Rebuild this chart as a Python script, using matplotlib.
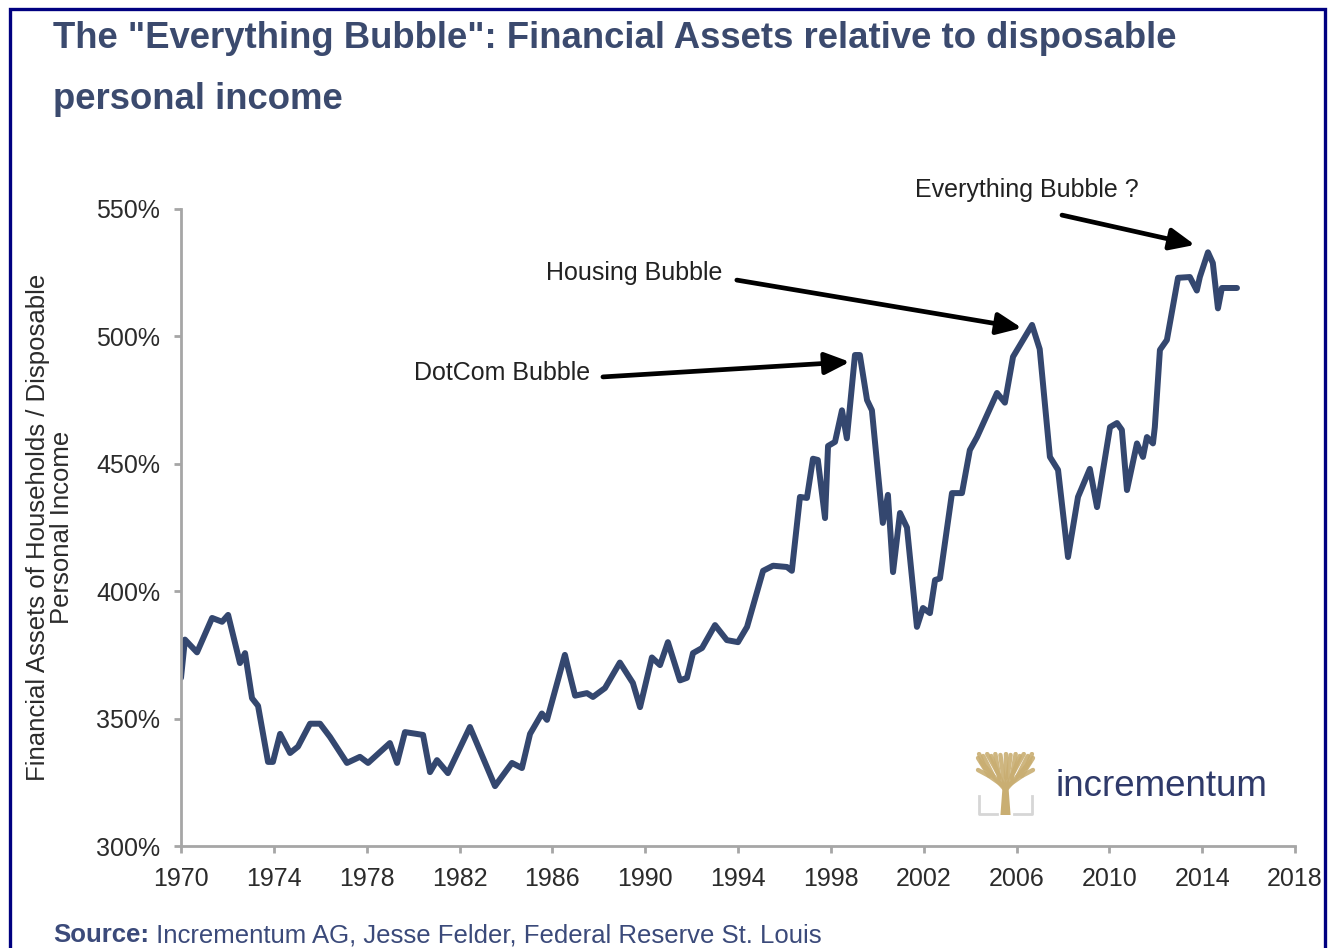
import matplotlib
matplotlib.use("Agg")
import matplotlib.pyplot as plt
from matplotlib.patches import Rectangle, Polygon
from matplotlib.text import Annotation

# ---------------- data ----------------
years = [1970.0, 1970.17, 1970.69, 1971.34, 1971.77, 1972.03, 1972.54, 1972.76, 1973.06, 1973.32,
         1973.75, 1973.96, 1974.27, 1974.70, 1975.04, 1975.56, 1975.99, 1976.42, 1977.15, 1977.71,
         1978.06, 1979.00, 1979.31, 1979.65, 1980.43, 1980.73, 1981.03, 1981.50, 1982.45, 1983.53,
         1984.26, 1984.69, 1985.04, 1985.55, 1985.77, 1986.54, 1986.98, 1987.49, 1987.75, 1988.27,
         1988.91, 1989.47, 1989.78, 1990.29, 1990.64, 1990.98, 1991.50, 1991.80, 1992.06, 1992.45,
         1993.01, 1993.52, 1994.00, 1994.39, 1995.08, 1995.51, 1996.11, 1996.32, 1996.67, 1996.97,
         1997.23, 1997.44, 1997.75, 1997.88, 1998.18, 1998.48, 1998.69, 1999.04, 1999.25, 1999.56,
         1999.77, 2000.24, 2000.46, 2000.68, 2000.98, 2001.28, 2001.71, 2001.97, 2002.27, 2002.49,
         2002.70, 2003.22, 2003.65, 2003.99, 2004.30, 2005.16, 2005.50, 2005.85, 2006.67, 2007.00,
         2007.44, 2007.79, 2008.22, 2008.65, 2009.16, 2009.47, 2010.03, 2010.33, 2010.54, 2010.76,
         2011.19, 2011.45, 2011.62, 2011.88, 2011.96, 2012.18, 2012.48, 2012.96, 2013.47, 2013.77,
         2013.90, 2014.25, 2014.46, 2014.68, 2014.85, 2015.07, 2015.50]
ratio = [366, 381, 376, 389.5, 388, 390.7, 371.8, 375.7, 358, 355,
         333, 333, 344, 336.5, 339, 348, 348, 342.8, 332.6, 335,
         332.6, 340.4, 332.6, 344.7, 343.6, 329, 333.7, 328.6, 346.7, 323.5,
         332.6, 330.6, 344, 352, 349.5, 375, 359, 360, 358.5, 362,
         372, 364, 354.5, 374, 371, 380, 365, 366, 375.7, 377.7,
         386.7, 380.8, 380, 386, 408, 410, 409.5, 408, 437, 436.6,
         452, 451.5, 428.7, 457, 458.6, 471, 460, 492.7, 492.7, 475,
         471, 426.8, 437.8, 407.5, 430.7, 425, 386, 393.4, 391.4, 404.4,
         405, 438.5, 438.5, 455.4, 460.5, 477.8, 474, 492, 504.5, 495,
         452.7, 447.6, 413.4, 437, 448, 433, 464.4, 466, 463.3, 439.7,
         458, 452.7, 460.5, 458, 464.4, 494.7, 498.6, 523, 523.3, 518,
         523.3, 533, 528.8, 511, 519, 519, 519]

x_ticks = [1970, 1974, 1978, 1982, 1986, 1990, 1994, 1998, 2002, 2006, 2010, 2014, 2018]
y_ticks = [300, 350, 400, 450, 500, 550]
y_tick_labels = ["300%", "350%", "400%", "450%", "500%", "550%"]

ann_labels = ["DotCom Bubble", "Housing Bubble", "Everything Bubble ?"]
ann_text_pos = [(1980.04, 485.6), (1985.73, 524.9), (2001.62, 557.5)]
ann_tail = [(1988.18, 484.1), (1993.95, 522.1), (2007.96, 547.6)]
ann_head = [(1998.82, 490.0), (2006.23, 503.3), (2013.69, 535.9)]

title = 'The "Everything Bubble": Financial Assets relative to disposable\npersonal income'
ylabel = "Financial Assets of Households / Disposable\nPersonal Income"

# ---------------- figure ----------------
plt.rcParams['font.family'] = ['Liberation Sans', 'DejaVu Sans']
W, H = 1330, 948
fig = plt.figure(figsize=(W / 100, H / 100), dpi=100)
fig.patch.set_facecolor('white')

def fx(px):
    return px / W

def fy(py):
    return 1 - py / H

ax = fig.add_axes([fx(181), fy(846), fx(1295) - fx(181), fy(209) - fy(846)])
line_col = '#34476f'
ax.plot(years, ratio, color=line_col, lw=4.3, solid_joinstyle='round', solid_capstyle='round')
ax.set_xlim(1970, 2018)
ax.set_ylim(300, 550)
ax.set_xticks(x_ticks)
ax.set_xticklabels([str(t) for t in x_ticks])
ax.set_yticks(y_ticks)
ax.set_yticklabels(y_tick_labels)
for s in ['top', 'right']:
    ax.spines[s].set_visible(False)
for s in ['left', 'bottom']:
    ax.spines[s].set_color('#a6a6a6')
    ax.spines[s].set_linewidth(2)
ax.tick_params(axis='both', colors='#a6a6a6', width=2, length=5, labelsize=18,
               labelcolor='#2b2b2b')
ax.tick_params(axis='y', pad=10)
ax.tick_params(axis='x', pad=10)
ax.set_ylabel(ylabel, fontsize=18.5, color='#2b2b2b', linespacing=1.0, labelpad=16)

for lab, tp, tl, hd in zip(ann_labels, ann_text_pos, ann_tail, ann_head):
    ax.text(tp[0], tp[1], lab, fontsize=18, color='#222222', ha='left', va='center', clip_on=False)
    ax.annotate('', xy=hd, xytext=tl,
                arrowprops=dict(arrowstyle='-|>,head_length=0.5,head_width=0.22', color='black',
                                lw=3.4, mutation_scale=30, shrinkA=0, shrinkB=0),
                annotation_clip=False)

# title
fig.text(fx(53), fy(21), title, fontsize=26.3, fontweight='bold', color='#3b4a6e',
         ha='left', va='top', linespacing=1.95)

# source
t1 = fig.text(fx(53), fy(947), 'Source:', fontsize=18.5, fontweight='bold', color='#3b4a7a',
              ha='left', va='bottom')
ann = Annotation(' Incrementum AG, Jesse Felder, Federal Reserve St. Louis', xy=(1, 0), xycoords=t1,
                 va='bottom', ha='left', fontsize=18.5, color='#3b4a7a')
fig.add_artist(ann)

# logo text
fig.text(fx(1056), fy(787), 'incrementum', fontsize=26.5, color='#2f3a6a', ha='left', va='center')

# logo tree icon
lax = fig.add_axes([fx(975), fy(818), fx(1036) - fx(975), fy(752) - fy(818)])
lax.set_xlim(0, 60)
lax.set_ylim(0, 66)
lax.axis('off')
gold = '#c9ae72'
lax.add_patch(Polygon([[25, 3], [35, 3], [33, 30], [27, 30]], closed=True, color=gold, lw=0))
branches = [
    [(30, 28), (18, 42), (6, 56)], [(30, 28), (22, 46), (16, 62)], [(30, 28), (27, 48), (25, 63)],
    [(30, 28), (33, 48), (35, 63)], [(30, 28), (38, 46), (44, 62)], [(30, 28), (42, 42), (54, 56)],
    [(28, 32), (14, 42), (3, 48)], [(32, 32), (46, 42), (57, 48)], [(18, 42), (8, 62)],
    [(42, 42), (52, 62)], [(22, 46), (12, 64)], [(38, 46), (48, 64)], [(24, 40), (20, 64)],
    [(36, 40), (40, 64)], [(14, 42), (3, 60)], [(46, 42), (57, 60)],
    [(10, 50), (4, 64)], [(50, 50), (56, 64)], [(30, 40), (30, 64)],
]
for br in branches:
    xs = [p[0] for p in br]
    ys = [p[1] for p in br]
    lax.plot(xs, ys, color=gold, lw=3.2, solid_capstyle='round', alpha=0.9)
gray = '#d6d6d6'
lax.plot([4, 4, 22], [22, 4, 4], color=gray, lw=2)
lax.plot([38, 56, 56], [4, 4, 22], color=gray, lw=2)

# border
fig.add_artist(Rectangle((fx(10), -0.02), fx(1325) - fx(10), fy(9) + 0.02,
                         transform=fig.transFigure, fill=False, edgecolor='#000080', lw=2.4))

fig.savefig('out.png', dpi=100, facecolor='white')
